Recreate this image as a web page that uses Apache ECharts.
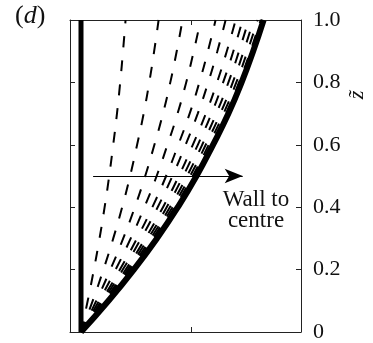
<!DOCTYPE html>
<html>
<head>
<meta charset="utf-8">
<script src="https://cdn.jsdelivr.net/npm/echarts@6/dist/echarts.min.js"></script>
<style>
html,body{margin:0;padding:0;background:#fff;}
#chart{width:373px;height:343px;}
</style>
</head>
<body>
<div id="chart"></div>
<script>
// height (z) samples of the profile
const zLevels = [0, 0.1, 0.2, 0.3, 0.4, 0.5, 0.6, 0.7, 0.8, 0.9, 1.0];
// outer boundary profile: distance from the wall at each height
const boundaryX = [0, 0.25, 0.48, 0.69, 0.88, 1.05, 1.2, 1.34, 1.46, 1.565, 1.66];
// relative position of each dashed contour with respect to the boundary
const contourFractions = [0.244, 0.425, 0.556, 0.655, 0.737, 0.792, 0.847, 0.885, 0.918, 0.945, 0.967, 0.984];
// right-hand axis ticks
const yTicks = [0, 0.2, 0.4, 0.6, 0.8, 1.0];
const xTicks = [1.0];
// wall position and arrow
const wallX = 0;
const arrowZ = 0.5;
const arrowFrom = 0.11;
const arrowTo = 1.47;

const serif = '"Liberation Serif", "Times New Roman", serif';

function scaled(f) {
  return zLevels.map((z, i) => [boundaryX[i] * f, z]);
}

const series = [];

contourFractions.forEach((f) => {
  series.push({
    type: 'line',
    data: scaled(f),
    smooth: true,
    symbol: 'none',
    silent: true,
    lineStyle: { color: '#000', width: 2, type: [11, 13], dashOffset: 0 }
  });
});

// outer boundary
series.push({
  type: 'line',
  data: scaled(1),
  smooth: true,
  symbol: 'none',
  silent: true,
  lineStyle: { color: '#000', width: 6 }
});

// wall
series.push({
  type: 'line',
  data: [[wallX, 0], [wallX, 1]],
  symbol: 'none',
  silent: true,
  lineStyle: { color: '#000', width: 5 },
  markLine: {
    silent: true,
    symbol: ['none', 'arrow'],
    symbolSize: [11, 18],
    label: { show: false },
    lineStyle: { color: '#000', width: 1, type: 'solid' },
    data: [[{ coord: [arrowFrom, arrowZ] }, { coord: [arrowTo, arrowZ] }]]
  }
});

const axisColor = '#222';

const chart = echarts.init(document.getElementById('chart'));
chart.setOption({
  animation: false,
  backgroundColor: '#fff',
  grid: { left: 70, right: 72, top: 20, bottom: 10 },
  xAxis: [
    {
      type: 'value', position: 'bottom', min: -0.1, max: 2.0,
      axisLine: { show: true, onZero: false, lineStyle: { color: axisColor, width: 1 } },
      axisTick: { show: true, inside: true, length: 5, customValues: xTicks, lineStyle: { color: axisColor } },
      axisLabel: { show: false },
      splitLine: { show: false }
    },
    {
      type: 'value', position: 'top', min: -0.1, max: 2.0,
      axisLine: { show: true, onZero: false, lineStyle: { color: axisColor, width: 1 } },
      axisTick: { show: true, inside: true, length: 5, customValues: xTicks, lineStyle: { color: axisColor } },
      axisLabel: { show: false },
      splitLine: { show: false }
    }
  ],
  yAxis: [
    {
      type: 'value', position: 'right', min: 0, max: 1, interval: 0.2,
      axisLine: { show: true, onZero: false, lineStyle: { color: axisColor, width: 1 } },
      axisTick: { show: true, inside: true, length: 5, customValues: yTicks, lineStyle: { color: axisColor } },
      axisLabel: {
        show: true, margin: 12, fontFamily: serif, fontSize: 22, color: '#111',
        customValues: yTicks,
        formatter: (v) => (v === 0 ? '0' : v.toFixed(1))
      },
      splitLine: { show: false }
    },
    {
      type: 'value', position: 'left', min: 0, max: 1, interval: 0.2,
      axisLine: { show: true, onZero: false, lineStyle: { color: axisColor, width: 1 } },
      axisTick: { show: true, inside: true, length: 5, lineStyle: { color: axisColor } },
      axisLabel: { show: false },
      splitLine: { show: false }
    }
  ],
  graphic: [
    {
      type: 'text', left: 15, top: 3,
      style: {
        text: '{p|(}{d|d}{p|)}',
        rich: {
          p: { font: '26px ' + serif, fill: '#111' },
          d: { font: 'italic 26px ' + serif, fill: '#111' }
        }
      }
    },
    {
      type: 'text', x: 256, y: 189,
      style: { text: 'Wall to\ncentre', font: '23px ' + serif, fill: '#111', align: 'center', lineHeight: 21 }
    },
    {
      type: 'text', x: 357, y: 95, rotation: Math.PI / 2,
      style: { text: 'z\u0303', font: 'italic 22px ' + serif, fill: '#111', align: 'center', verticalAlign: 'middle' }
    }
  ],
  series: series
});
</script>
</body>
</html>
